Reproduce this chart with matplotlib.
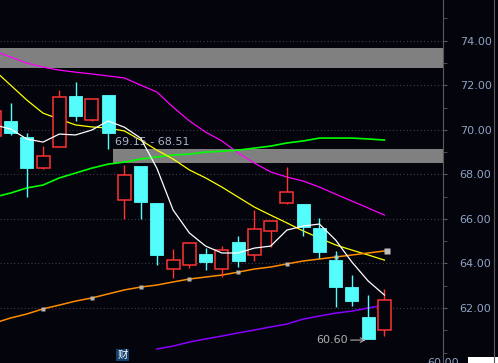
import matplotlib
matplotlib.use('Agg')
import matplotlib.pyplot as plt
from matplotlib.patches import Rectangle
import numpy as np

# candle data (index 0 is the partly hidden candle at the left edge)
opens  = [69.72, 70.40, 69.68, 68.28, 69.23, 71.52, 70.44, 71.56, 66.85, 68.37,
          66.71, 63.75, 63.93, 64.42, 63.75, 64.96, 64.38, 65.46, 66.71, 66.67,
          65.59, 64.15, 62.94, 61.60, 61.01]
highs  = [70.95, 71.20, 69.86, 69.27, 71.79, 72.15, 71.43, 71.56, 68.42, 68.37,
          66.71, 64.65, 64.92, 64.69, 64.78, 65.23, 66.40, 65.91, 68.33, 66.67,
          66.04, 64.56, 63.48, 62.58, 62.85]
lows   = [69.60, 69.77, 66.98, 68.24, 69.23, 70.40, 70.40, 69.14, 65.99, 65.99,
          63.93, 63.35, 63.80, 63.71, 63.39, 63.84, 64.11, 64.74, 66.67, 65.23,
          64.24, 62.04, 62.09, 60.60, 60.74]
closes = [70.84, 69.86, 68.28, 68.82, 71.47, 70.62, 71.38, 69.86, 67.97, 66.76,
          64.38, 64.15, 64.92, 64.06, 64.60, 64.11, 65.55, 65.91, 67.21, 65.64,
          64.51, 62.94, 62.31, 60.60, 62.36]

# moving averages
ma_white  = [70.22, 70.04, 69.59, 69.45, 69.81, 69.77, 69.99, 70.40, 70.12, 69.63,
             68.28, 66.40, 65.37, 64.78, 64.47, 64.47, 64.69, 64.78, 65.50, 65.68,
             65.77, 65.05, 64.06, 63.21, 62.58]
ma_yellow = [72.68, 72.01, 71.34, 70.75, 70.48, 70.22, 70.13, 70.08, 69.95, 69.54,
             69.09, 68.69, 68.20, 67.84, 67.43, 66.98, 66.53, 66.17, 65.82, 65.46,
             65.14, 64.83, 64.60, 64.38, 64.15]
ma_magenta = [73.54, 73.27, 73.00, 72.82, 72.68, 72.59, 72.51, 72.42, 72.33, 72.01,
              71.70, 71.02, 70.40, 69.90, 69.50, 68.96, 68.51, 68.11, 67.88, 67.70,
              67.43, 67.11, 66.80, 66.49, 66.17]
ma_green  = [66.98, 67.16, 67.39, 67.52, 67.84, 68.06, 68.28, 68.46, 68.55, 68.69,
             68.78, 68.87, 68.91, 69.00, 69.04, 69.09, 69.18, 69.27, 69.41, 69.50,
             69.63, 69.63, 69.63, 69.59, 69.54]
ma_orange = [61.32, 61.55, 61.73, 61.96, 62.13, 62.31, 62.45, 62.63, 62.81, 62.94,
             63.03, 63.17, 63.30, 63.39, 63.48, 63.61, 63.75, 63.84, 63.98, 64.11,
             64.20, 64.29, 64.38, 64.47, 64.56]
# purple line starts at candle 10
ma_purple = [60.16, 60.29, 60.47, 60.61, 60.74, 60.88, 61.01, 61.15, 61.28, 61.50,
             61.64, 61.77, 61.86, 62.00, 62.13]
purple_start = 10

# price ranges shown as grey bands
band_top = (72.77, 73.67)
band_mid = (68.51, 69.15)
band_mid_label = '69.15 - 68.51'
low_label = '60.60'
yticks = [62, 64, 66, 68, 70, 72, 74]

BG = '#04040c'
CYAN = '#54fcfc'
RED = '#ff3232'
LABEL = '#8fa3c4'

fig = plt.figure(figsize=(4.98, 3.63), dpi=100, facecolor=BG)
ax = fig.add_axes([0, 0, 443 / 498, 1])
ax.set_facecolor(BG)

x = np.arange(len(opens))
ax.set_xlim(0.354, 27.60)
ax.set_ylim(59.53, 75.83)

# dotted grid
for yv in yticks:
    ax.axhline(yv, color='#4a4a55', lw=0.8, ls=(0, (0.8, 2.3)), zorder=0)

# grey bands
ax.axhspan(band_top[0], band_top[1], color='#808080', lw=0, zorder=1)
ax.fill_between([7.30, 27.60], band_mid[0], band_mid[1], color='#808080', lw=0, zorder=1)
ax.text(7.43, 69.45, band_mid_label, color='#a8b4c8', fontsize=8, va='center', ha='left', zorder=6)

# moving averages
ax.plot(x, ma_magenta, color='#ff00ff', lw=0.9, zorder=3)
ax.plot(x, ma_green, color='#00ff00', lw=1.2, zorder=3)
ax.plot(x, ma_yellow, color='#ffff00', lw=0.9, zorder=3)
ax.plot(x, ma_orange, color='#ff8c00', lw=1.1, zorder=3)
ax.plot(x[purple_start:], ma_purple, color='#8800ff', lw=1.1, zorder=3)

# small grey markers along the orange line
ax.plot(x[3:22:3], np.array(ma_orange)[3:22:3], ls='none', marker='s', ms=3.2,
        color='#b4b4b4', mec='none', zorder=4)
ax.plot([x[24] + 0.15], [ma_orange[24]], ls='none', marker='s', ms=4,
        color='#c0c0c0', mec='none', zorder=4)

# candles
w = 0.8
for i in range(len(opens)):
    o, h, l, c = opens[i], highs[i], lows[i], closes[i]
    up = c >= o
    col = RED if up else CYAN
    ax.vlines(x[i], l, h, color=col, lw=1.0, zorder=4)
    lo, hi = min(o, c), max(o, c)
    if up:
        ax.add_patch(Rectangle((x[i] - w / 2, lo), w, hi - lo, facecolor=BG,
                               edgecolor=col, lw=1.1, zorder=5))
    else:
        ax.add_patch(Rectangle((x[i] - w / 2, lo), w, hi - lo, facecolor=col,
                               edgecolor=col, lw=0.6, zorder=5))

ax.plot(x, ma_white, color='#ffffff', lw=0.9, zorder=6)

# low annotation
ax.annotate(low_label, xy=(22.86, 60.56), xytext=(21.75, 60.56),
            color='#b0b0b0', fontsize=8, ha='right', va='center',
            arrowprops=dict(arrowstyle='->', color='#b0b0b0', lw=0.8,
                            shrinkA=0, shrinkB=0), zorder=7)

# marker box at the bottom
ax.text(7.89, 59.88, '财', color='white', fontsize=7.5, ha='center', va='center',
        family=['Noto Sans CJK SC', 'DejaVu Sans'], zorder=7,
        bbox=dict(boxstyle='square,pad=0.1', facecolor='#12406a', edgecolor='none'))

# right price axis
for s in ['left', 'top', 'bottom']:
    ax.spines[s].set_visible(False)
ax.spines['right'].set_color('#5a5a5a')
ax.set_xticks([])
ax.yaxis.tick_right()
ax.set_yticks(yticks)
ax.set_yticklabels([f'{v:.2f}' for v in yticks])
ax.set_yticks(np.arange(60, 76, 1), minor=True)
ax.tick_params(axis='y', which='both', colors='#5a5a5a', labelcolor=LABEL,
               labelsize=8, length=3, pad=9)

# partly visible labels at the edges
fig.text(457 / 498, 1 + 4 / 363, '76.00', color=LABEL, fontsize=8, va='center', ha='left')
fig.text(427 / 498, 5 / 363, '60.00', color=LABEL, fontsize=8, va='top', ha='left')

# second panel edge on the far right
fig.add_artist(plt.Line2D([494 / 498, 494 / 498], [0, 1], color='#5a5a5a', lw=0.8))
fig.patches.append(Rectangle((468 / 498, 0), 30 / 498, 6 / 363, transform=fig.transFigure,
                             facecolor='white', edgecolor='none', figure=fig))

fig.savefig('out.png', dpi=100, facecolor=BG)
